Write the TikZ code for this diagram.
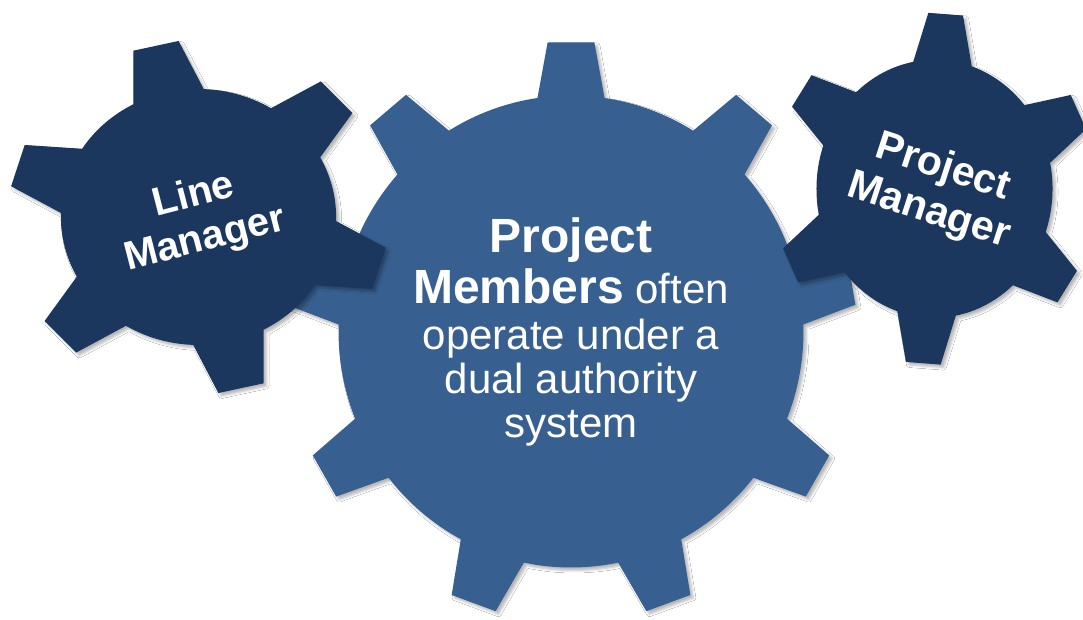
\documentclass[tikz,border=0pt]{standalone}
\usepackage{fontspec}
\setmainfont{Liberation Sans}
\usetikzlibrary{shadows.blur}
\definecolor{gearmid}{RGB}{55,96,145}
\definecolor{geardark}{RGB}{27,55,94}
\tikzset{
  gshadow/.style={blur shadow={shadow xshift=3pt, shadow yshift=-3pt, shadow blur radius=2.5pt, shadow opacity=28}},
  midgear/.style={fill=gearmid, gshadow},
  darkgear/.style={fill=geardark, gshadow},
  gtext/.style={text=white, inner sep=0pt},
  midtext/.style={gtext, anchor=base, font=\fontsize{42}{46}\selectfont},
  boldbig/.style={gtext, anchor=base, font=\bfseries\fontsize{48}{50}\selectfont},
  lefttext/.style={gtext, align=center, rotate=14.5, font=\bfseries\fontsize{40}{45}\selectfont},
  righttext/.style={gtext, align=center, rotate=-18, font=\bfseries\fontsize{41}{46}\selectfont}
}
\begin{document}
\begin{tikzpicture}[x=1pt,y=1pt]
\useasboundingbox (0,0) rectangle (1083,619);
\fill[white] (0,0) rectangle (1083,619);

% middle gear: 9 teeth
\begin{scope}[shift={(571,287.5)}, xscale=0.985]
\fill[midgear] ({90-8.3}:236)
  \foreach \k in {1,...,9}{
    -- ({90+40*(\k-1)-4.7}:290) -- ({90+40*(\k-1)+4.7}:290)
    -- ({90+40*(\k-1)+8.3}:236)
    arc[start angle={90+40*(\k-1)+8.3}, end angle={90+40*\k-8.3}, radius=236]
  } -- cycle;
\end{scope}

% left gear: 6 teeth
\begin{scope}[shift={(198.5,402)}, xscale=1.075]
\fill[darkgear] ({103-15.2}:128)
  \foreach \k in {1,...,6}{
    -- ({103+60*(\k-1)-7}:177) -- ({103+60*(\k-1)+7}:177)
    -- ({103+60*(\k-1)+15.2}:128)
    arc[start angle={103+60*(\k-1)+15.2}, end angle={103+60*\k-15.2}, radius=128]
  } -- cycle;
\end{scope}

% right gear: 6 teeth
\begin{scope}[shift={(934.5,430.25)}, xscale=0.915]
\fill[darkgear] ({86-14.4}:129)
  \foreach \k in {1,...,6}{
    -- ({86+60*(\k-1)-6.2}:176) -- ({86+60*(\k-1)+6.2}:176)
    -- ({86+60*(\k-1)+14.4}:129)
    arc[start angle={86+60*(\k-1)+14.4}, end angle={86+60*\k-14.4}, radius=129]
  } -- cycle;
\end{scope}

% middle text
\node[boldbig] (m1) at (571,366) {Project};
\node[midtext] (m2) at (571,316) {{\bfseries\fontsize{48}{50}\selectfont Members} often};
\node[midtext] (m3) at (571,270) {operate under a};
\node[midtext] (m4) at (571,226) {dual authority};
\node[midtext] (m5) at (571,182) {system};

% left text
\node[lefttext] (lm) at (199.5,400.6) {Line\\Manager};

% right text
\node[righttext] (pm) at (935.6,429.0) {Project\\Manager};
\end{tikzpicture}
\end{document}
